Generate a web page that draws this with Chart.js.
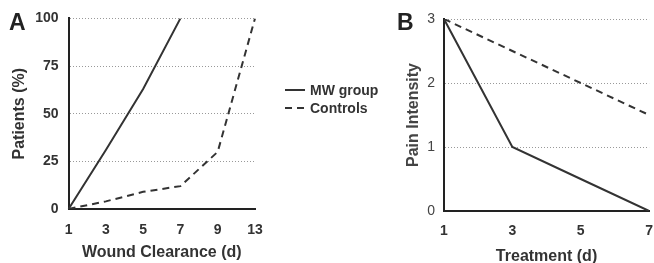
<!DOCTYPE html>
<html>
<head>
<meta charset="utf-8">
<script src="https://cdn.jsdelivr.net/npm/chart.js@4/dist/chart.umd.min.js"></script>
<style>
  html, body { margin: 0; padding: 0; background: #fff; overflow: hidden; }
  #wrapA { position: absolute; left: 0; top: 0; width: 400px; height: 263px; }
  #wrapB { position: absolute; left: 395px; top: 0; width: 270px; height: 263px; }
</style>
</head>
<body>
<div id="wrapA"><canvas id="graficoA"></canvas></div>
<div id="wrapB"><canvas id="graficoB"></canvas></div>
<script>
// dados do painel A
const woundDays = ['1', '3', '5', '7', '9', '13'];
const mwClearance = [0, 31, 63, 100, null, null];
const ctrlClearance = [0, 4, 9, 12, 30, 100];

// dados do painel B
const treatDays = [1, 3, 5, 7];
const mwPain = [3, 1, 0.5, 0];
const ctrlPain = [3, 2.5, 2, 1.5];

const seriesNames = ['MW group', 'Controls'];
const lineColor = '#333';
const textColor = '#333';
const fam = '"Liberation Sans", Arial, sans-serif';

Chart.defaults.font.family = fam;
Chart.defaults.color = textColor;
Chart.defaults.animation = false;

// letra do painel (A / B)
const panelLabel = {
  id: 'panelLabel',
  afterDraw(chart, args, opts) {
    const ctx = chart.ctx;
    ctx.save();
    ctx.font = 'bold 23px ' + fam;
    ctx.fillStyle = '#222';
    ctx.textBaseline = 'alphabetic';
    ctx.fillText(opts.text, opts.x, opts.y);
    ctx.restore();
  }
};

// legenda desenhada a partir dos datasets
const sideLegend = {
  id: 'sideLegend',
  afterDraw(chart, args, opts) {
    if (!opts.show) return;
    const ctx = chart.ctx;
    ctx.save();
    chart.data.datasets.forEach((ds, i) => {
      const y = opts.y + i * opts.gap;
      ctx.beginPath();
      ctx.setLineDash(ds.borderDash || []);
      ctx.strokeStyle = ds.borderColor;
      ctx.lineWidth = ds.borderWidth;
      ctx.moveTo(opts.x, y);
      ctx.lineTo(opts.x + 20, y);
      ctx.stroke();
      ctx.setLineDash([]);
      ctx.font = 'bold 14px ' + fam;
      ctx.fillStyle = textColor;
      ctx.textBaseline = 'middle';
      ctx.fillText(ds.label, opts.x + 25, y + 1);
    });
    ctx.restore();
  }
};

function gridColor(c) {
  return c.tick && c.tick.value === 0 ? 'transparent' : '#999';
}

const solid = { borderColor: lineColor, borderWidth: 2, pointRadius: 0, tension: 0, fill: false };

// GRÁFICO A
new Chart(document.getElementById('graficoA'), {
  type: 'line',
  data: {
    labels: woundDays,
    datasets: [
      Object.assign({ label: seriesNames[0], data: mwClearance }, solid),
      Object.assign({ label: seriesNames[1], data: ctrlClearance, borderDash: [7, 5] }, solid)
    ]
  },
  plugins: [panelLabel, sideLegend],
  options: {
    responsive: true,
    maintainAspectRatio: false,
    layout: { padding: { left: 10, right: 145, top: 18, bottom: 1 } },
    plugins: {
      legend: { display: false },
      tooltip: { enabled: false },
      panelLabel: { text: 'A', x: 9, y: 30 },
      sideLegend: { show: true, x: 285, y: 90, gap: 18 }
    },
    scales: {
      x: {
        grid: { color: 'transparent', drawTicks: false },
        border: { display: true, color: '#222', width: 2 },
        ticks: { padding: 13, font: { size: 14, weight: 'bold' }, color: textColor, maxRotation: 0 },
        title: { display: true, text: 'Wound Clearance (d)', font: { size: 16, weight: 'bold' }, color: textColor, padding: { top: -9, bottom: 0 } }
      },
      y: {
        min: 0, max: 100,
        grid: { color: gridColor, drawTicks: false, lineWidth: 1 },
        border: { display: true, color: '#222', width: 2, dash: [1, 2] },
        ticks: { stepSize: 25, padding: 10, font: { size: 14, weight: 'bold' }, color: textColor },
        title: { display: true, text: 'Patients (%)', font: { size: 16, weight: 'bold' }, color: textColor, padding: { top: 0, bottom: -4 } }
      }
    }
  }
});

// GRÁFICO B
new Chart(document.getElementById('graficoB'), {
  type: 'line',
  data: {
    datasets: [
      Object.assign({ label: seriesNames[0], data: treatDays.map((d, i) => ({ x: d, y: mwPain[i] })) }, solid),
      Object.assign({ label: seriesNames[1], data: treatDays.map((d, i) => ({ x: d, y: ctrlPain[i] })), borderDash: [7, 5] }, solid)
    ]
  },
  plugins: [panelLabel],
  options: {
    responsive: true,
    maintainAspectRatio: false,
    layout: { padding: { left: 9, right: 12, top: 19, bottom: 0 } },
    plugins: {
      legend: { display: false },
      tooltip: { enabled: false },
      panelLabel: { text: 'B', x: 2, y: 30 }
    },
    scales: {
      x: {
        type: 'linear',
        min: 1, max: 7,
        grid: { color: 'transparent', drawTicks: false },
        border: { display: true, color: '#222', width: 2 },
        ticks: { stepSize: 2, padding: 12, font: { size: 14, weight: 'bold' }, color: textColor },
        title: { display: true, text: 'Treatment (d)', font: { size: 16, weight: 'bold' }, color: textColor, padding: { top: -5, bottom: -3 } }
      },
      y: {
        min: 0, max: 3,
        grid: { color: gridColor, drawTicks: false, lineWidth: 1 },
        border: { display: true, color: '#222', width: 2, dash: [1, 2] },
        ticks: { stepSize: 1, padding: 9, font: { size: 14 }, color: '#444' },
        title: { display: true, text: 'Pain Intensity', font: { size: 16, weight: 'bold' }, color: '#444', padding: { top: 0, bottom: -5 } }
      }
    }
  }
});
</script>
</body>
</html>
